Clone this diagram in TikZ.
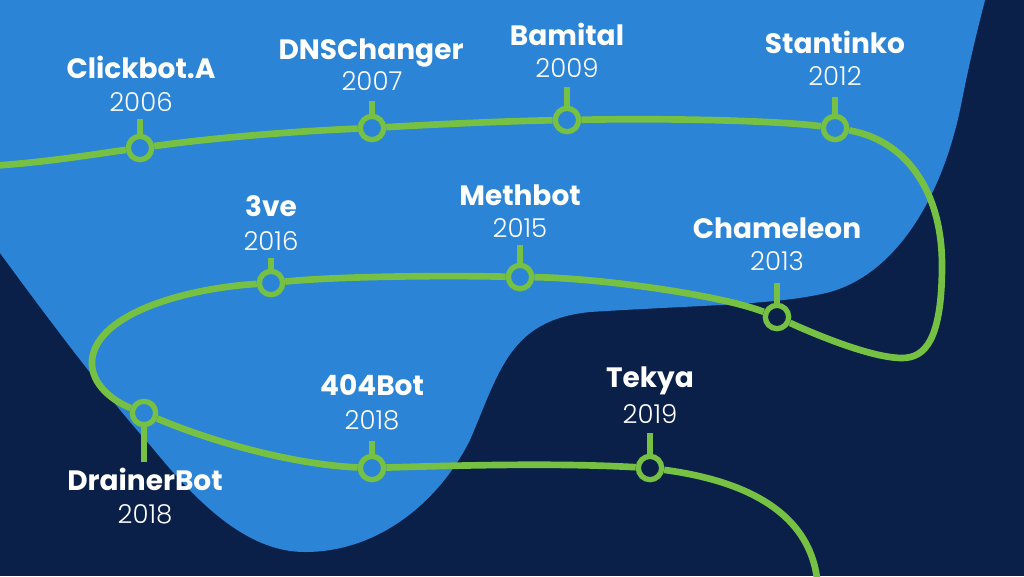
\documentclass[tikz,border=0pt]{standalone}
\usepackage{fontspec}
\setmainfont{Poppins}
\newfontfamily\yrfont{Poppins Light}
\definecolor{navy}{RGB}{10,32,72}
\definecolor{blob}{RGB}{43,132,213}
\definecolor{lime}{RGB}{118,192,67}
\tikzset{
  stop/.style={circle, draw=lime, line width=4pt, minimum size=17.5pt, inner sep=0pt},
  track/.style={draw=lime, line width=5pt},
  tick/.style={draw=lime, line width=4pt},
  lbl/.style={text=white, anchor=base, inner sep=0pt, font=\fontsize{21}{22}\selectfont\bfseries},
  yr/.style={text=white, anchor=base, inner sep=0pt, font=\fontsize{19.5}{21}\selectfont\yrfont}
}
\begin{document}
\begin{tikzpicture}[x=0.75pt,y=-0.75pt]
\useasboundingbox (0,0) rectangle (1024,576);
\fill[navy] (0,0) rectangle (1024,576);
% blob
\fill[blob] (0,0) -- (0,253)
  .. controls (60,335) and (110,400) .. (150,445)
  .. controls (195,500) and (245,552) .. (305,552)
  .. controls (380,552) and (440,500) .. (470,440)
  .. controls (500,370) and (510,320) .. (590,312)
  .. controls (700,305) and (780,305) .. (830,292)
  .. controls (900,272) and (945,190) .. (962,100)
  .. controls (972,50) and (980,20) .. (985,0) -- cycle;
% stops
\node[stop] (c1) at (140,148) {};
\node[stop] (c2) at (372,128) {};
\node[stop] (c3) at (567,120) {};
\node[stop] (c4) at (835,128) {};
\node[stop] (c5) at (777,317) {};
\node[stop] (c6) at (520,277) {};
\node[stop] (c7) at (271,283) {};
\node[stop] (c8) at (144,413) {};
\node[stop] (c9) at (372,468) {};
\node[stop] (c10) at (650,468) {};
\coordinate (start) at (-10,166);
\coordinate (finish) at (818,590);
% track
\draw[track] (start) .. controls (50,162) and (95,154) .. (c1);
\draw[track] (c1) .. controls (220,137) and (300,131) .. (c2);
\draw[track] (c2) .. controls (440,124) and (510,121) .. (c3);
\draw[track] (c3) .. controls (680,118) and (780,121) .. (c4);
\draw[track] (c4) .. controls (905,140) and (942,190) .. (942,265)
  .. controls (942,340) and (925,358) .. (902,358)
  .. controls (870,358) and (810,332) .. (c5);
\draw[track] (c5) .. controls (720,295) and (600,278) .. (c6);
\draw[track] (c6) .. controls (430,275) and (330,277) .. (c7);
\draw[track] (c7) .. controls (190,288) and (97,312) .. (92,360)
  .. controls (90,385) and (115,402) .. (c8);
\draw[track] (c8) .. controls (220,445) and (300,465) .. (c9);
\draw[track] (c9) .. controls (470,465) and (560,463) .. (c10);
\draw[track] (c10) .. controls (740,480) and (815,510) .. (finish);
% ticks
\coordinate (t1) at (140,119);
\coordinate (t2) at (372,101);
\coordinate (t3) at (567,87);
\coordinate (t4) at (835,97);
\coordinate (t5) at (777,283);
\coordinate (t6) at (520,245);
\coordinate (t7) at (271,258);
\coordinate (t8) at (144,462);
\coordinate (t9) at (372,441);
\coordinate (t10) at (650,433);
\foreach \i in {1,...,7,9,10} {\draw[tick] (c\i.north) -- (t\i);}
\draw[tick] (c8.south) -- (t8);
% labels
\node[lbl] (l1) at (141,78) {Clickbot.A};
\node[yr] (y1) at (141,111) {2006};
\node[lbl] (l2) at (371,59) {DNSChanger};
\node[yr] (y2) at (372,90) {2007};
\node[lbl] (l3) at (567,45) {Bamital};
\node[yr] (y3) at (567,77) {2009};
\node[lbl] (l4) at (835,53) {Stantinko};
\node[yr] (y4) at (835,85) {2012};
\node[lbl] (l5) at (777,238) {Chameleon};
\node[yr] (y5) at (777,270) {2013};
\node[lbl] (l6) at (520,205) {Methbot};
\node[yr] (y6) at (520,237) {2015};
\node[lbl] (l7) at (271,216) {3ve};
\node[yr] (y7) at (271,250) {2016};
\node[lbl] (l8) at (145,490) {DrainerBot};
\node[yr] (y8) at (145,523) {2018};
\node[lbl] (l9) at (372,395) {404Bot};
\node[yr] (y9) at (372,429) {2018};
\node[lbl] (l10) at (650,387) {Tekya};
\node[yr] (y10) at (650,423) {2019};
\end{tikzpicture}
\end{document}
